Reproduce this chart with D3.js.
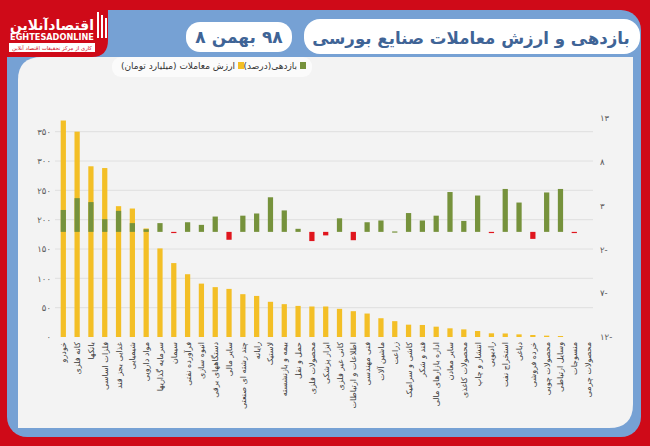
<!DOCTYPE html>
<html><head><meta charset="utf-8">
<script src="https://cdn.jsdelivr.net/npm/d3@7"></script>
<style>html,body{margin:0;padding:0;background:#cf0a18;} svg{display:block}</style>
</head><body><svg id="c" width="650" height="446"></svg>
<script>
const categories = ["خودرو","کانه فلزی","بانکها","فلزات اساسی","غذایی بجز قند","شیمیایی","مواد دارویی","سرمایه گذاریها","سیمان","فرآورده نفتی","انبوه سازی","دستگاههای برقی","سایر مالی","چند رشته ای صنعتی","رایانه","لاستیک","بیمه و بازنشسته","حمل و نقل","محصولات فلزی","ابزار پزشکی","کانی غیر فلزی","اطلاعات و ارتباطات","فنی مهندسی","ماشین آلات","زراعت","کاشی و سرامیک","قند و شکر","اداره بازارهای مالی","سایر معادن","محصولات کاغذی","انتشار و چاپ","رادیویی","استخراج نفت","دباغی","خرده فروشی","محصولات چوبی","وسایل ارتباطی","منسوجات","محصولات چرمی"];
const tradeValue = [369,350,291,288,223,219,185,151,126,107,91,85,82,73,70,60,56,53,52,52,48,44,40,32,27,21,20.5,17.6,14.8,13,10.2,6.3,6,4.5,3.4,2.3,1.7,0,0];
const returnPct = [2.5,3.85,3.4,1.45,2.4,1.0,0.3,1.0,-0.1,1.1,0.8,1.75,-0.9,1.85,2.1,3.95,2.45,0.35,-1.05,-0.4,1.55,-0.95,1.1,1.3,0.05,2.15,1.3,1.85,4.55,1.25,4.15,-0.1,4.9,3.35,-0.8,4.5,4.9,-0.1,0];
const leftTicks = [0,50,100,150,200,250,300,350];
const rightTicks = [-12,-7,-2,3,8,13];
const titleText = "بازدهی و ارزش معاملات صنایع بورسی";
const dateParts = ["۸", "بهمن", "۹۸"];   // shown left to right as in the reference
const legendLabels = ["بازدهی(درصد)","ارزش معاملات (میلیارد تومان)"];

const fa = s => String(s).replace(/\d/g, d => "۰۱۲۳۴۵۶۷۸۹"[d]);
const faSigned = v => v < 0 ? fa(Math.abs(v)) + "-" : fa(v);

const svg = d3.select("#c");
const FONT = "'DejaVu Sans', sans-serif";
const RED = "#cf0a18", BLUE = "#76a1d4", PANEL = "#f3f3f3";
const YELLOW = "#f3bf26", GREEN = "#76923c", NEG = "#e0161e";

function fit(sel, width, start) {
  sel.attr("font-size", start);
  const w = sel.node().getComputedTextLength();
  if (w > 0) sel.attr("font-size", (start * width / w).toFixed(2));
  return sel;
}

// frame
svg.append("rect").attr("width",650).attr("height",446).attr("fill",RED);
svg.append("rect").attr("x",7).attr("y",10).attr("width",634).attr("height",427).attr("rx",20).attr("fill",BLUE);
svg.append("path").attr("d","M0,0 H108 V40 Q108,57 92,57 H0 Z").attr("fill",RED);
svg.append("path").attr("d","M18,80 Q18,57 42,57 H633 V404 Q633,428 609,428 H18 Z").attr("fill",PANEL);

// logo
const lg = svg.append("g").attr("font-family",FONT).attr("fill","#fff");
fit(lg.append("text").attr("x",52).attr("y",30).attr("text-anchor","middle").attr("font-weight","bold").text("اقتصادآنلاین"), 84, 17);
fit(lg.append("text").attr("x",52).attr("y",40).attr("text-anchor","middle").attr("font-weight","bold").text("EGHTESADONLINE"), 84, 7);
lg.append("rect").attr("x",9).attr("y",43).attr("width",86).attr("height",9).attr("fill","#fff");
fit(lg.append("text").attr("x",52).attr("y",50).attr("text-anchor","middle").attr("fill",RED).text("کاری از مرکز تحقیقات اقتصاد آنلاین"), 80, 6);
[0,4,8].forEach((o,i)=>lg.append("rect").attr("x",97+o).attr("y",12+i*3).attr("width",2).attr("height",26-i*3).attr("fill","#fff"));

// title pills
svg.append("rect").attr("x",186).attr("y",22).attr("width",106).attr("height",30).attr("rx",14).attr("fill","#fff");
svg.append("rect").attr("x",304).attr("y",19).attr("width",336).attr("height",35).attr("rx",16).attr("fill","#fff");
fit(svg.append("text").attr("x",471).attr("y",44).attr("text-anchor","middle").attr("font-family",FONT).attr("font-weight","bold").attr("fill","#3f6496").text(titleText), 318, 20);

// date: three pieces laid out left to right
const dg = svg.append("g").attr("font-family",FONT).attr("font-weight","bold").attr("font-size",17).attr("fill","#3f6496");
const dTexts = dateParts.map(p => dg.append("text").attr("y",43).text(p));
const gap = 6;
const widths = dTexts.map(t => t.node().getComputedTextLength());
const total = widths.reduce((a,b)=>a+b,0) + gap*(widths.length-1);
let cx = 239 - total/2;
dTexts.forEach((t,i)=>{ t.attr("x",cx); cx += widths[i] + gap; });

// legend
svg.append("rect").attr("x",112).attr("y",57).attr("width",200).attr("height",20).attr("rx",9).attr("fill","#fbfbfb");
const leg = svg.append("g").attr("font-family",FONT).attr("font-size",9).attr("fill","#333");
leg.append("rect").attr("x",300).attr("y",62).attr("width",6).attr("height",7).attr("fill",GREEN);
leg.append("text").attr("x",297).attr("y",69).attr("text-anchor","end").text(legendLabels[0]);
leg.append("rect").attr("x",238).attr("y",62).attr("width",6).attr("height",7).attr("fill",YELLOW);
leg.append("text").attr("x",235).attr("y",69).attr("text-anchor","end").text(legendLabels[1]);

// scales
const x = d3.scaleBand().domain(categories).range([56.4, 595]).paddingInner(0.62).paddingOuter(0.31);
const yL = d3.scaleLinear().domain([0, 373.3]).range([337, 118]);
const yR = d3.scaleLinear().domain([-12, 13]).range([337, 118]);

// grid
svg.append("g").selectAll("line").data(leftTicks.filter(t=>t>0)).join("line")
  .attr("x1",55).attr("x2",593).attr("y1",d=>yL(d)).attr("y2",d=>yL(d))
  .attr("stroke","#dadada").attr("stroke-width",0.8);

// left axis
const axL = svg.append("g").attr("transform","translate(55,0)")
  .call(d3.axisLeft(yL).tickValues(leftTicks).tickSize(0).tickPadding(4).tickFormat(d=>fa(d)));
axL.select(".domain").remove();
axL.selectAll("text").attr("font-family",FONT).attr("font-size",8.5).attr("fill","#595959");

// right axis
const axR = svg.append("g").attr("transform","translate(597,0)")
  .call(d3.axisRight(yR).tickValues(rightTicks).tickSize(0).tickPadding(3).tickFormat(d=>faSigned(d)));
axR.select(".domain").remove();
axR.selectAll("text").attr("font-family",FONT).attr("font-size",8.5).attr("fill","#595959");

// yellow bars
svg.append("g").selectAll("rect").data(categories).join("rect")
  .attr("x",d=>x(d)).attr("width",x.bandwidth())
  .attr("y",(d,i)=>yL(tradeValue[i])).attr("height",(d,i)=>yL(0)-yL(tradeValue[i]))
  .attr("fill",YELLOW);

// return bars
svg.append("g").selectAll("rect").data(categories).join("rect")
  .attr("x",d=>x(d)).attr("width",x.bandwidth())
  .attr("y",(d,i)=>Math.min(yR(returnPct[i]), yR(0)))
  .attr("height",(d,i)=>returnPct[i]===0?0:Math.max(1.2, Math.abs(yR(returnPct[i])-yR(0))))
  .attr("fill",(d,i)=>returnPct[i]<0?NEG:GREEN);

// category labels
svg.append("g").selectAll("text").data(categories).join("text")
  .attr("transform",d=>`translate(${x(d)+x.bandwidth()/2+3},342) rotate(-90)`)
  .attr("text-anchor","end").attr("font-family",FONT).attr("font-size",8).attr("fill","#3a3a3a")
  .text(d=>d);
</script></body></html>
